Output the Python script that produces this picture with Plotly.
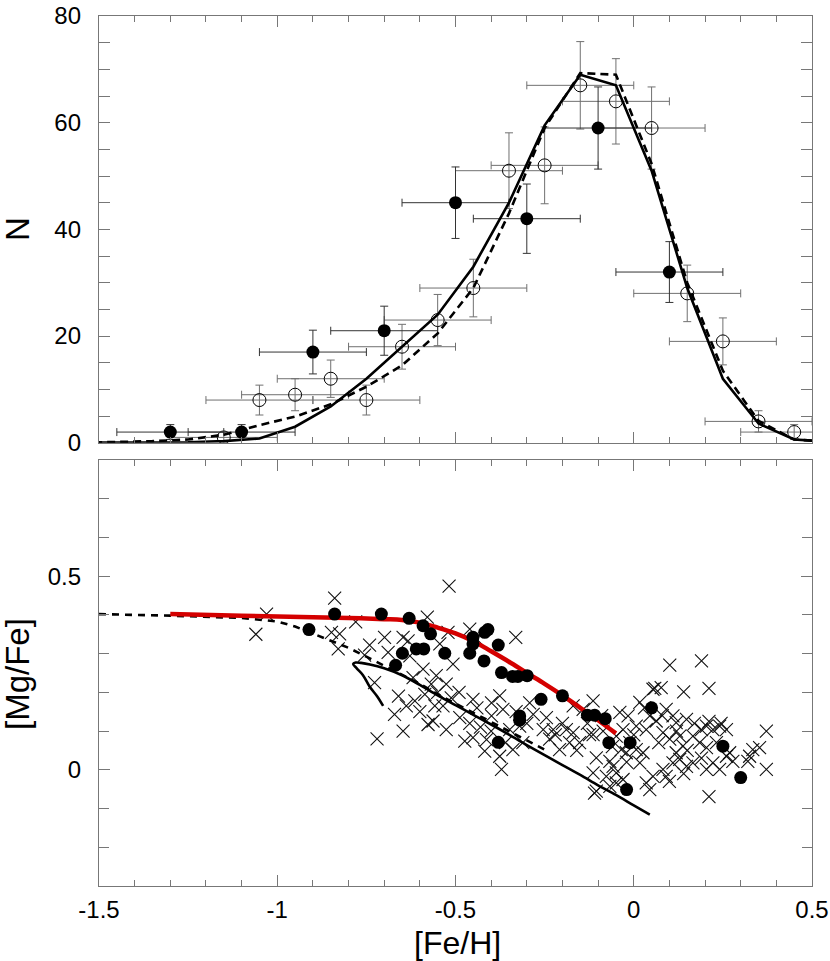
import plotly.graph_objects as go

# ---------------- top panel data ----------------
feh_filled = [-1.3, -1.1, -0.9, -0.7, -0.5, -0.3, -0.1, 0.1]
n_filled = [2, 2, 17, 21, 45, 42, 59, 32]
nerr_filled = [1.4, 1.4, 4.1, 4.6, 6.7, 6.5, 7.7, 5.7]
feherr_filled = [0.15, 0.15, 0.15, 0.15, 0.15, 0.15, 0.15, 0.15]

feh_open = [-1.15, -1.05, -0.95, -0.85, -0.75, -0.65, -0.55, -0.45, -0.35,
            -0.25, -0.15, -0.05, 0.05, 0.15, 0.25, 0.35, 0.45]
n_open = [1, 8, 9, 12, 8, 18, 23, 29, 51, 52, 67, 64, 59, 28, 19, 4, 2]
nerr_open = [1.0, 2.8, 3.0, 3.5, 2.8, 4.2, 4.8, 5.4, 7.1, 7.2, 8.2, 8.0, 7.7,
             5.3, 4.4, 2.0, 1.4]
feherr_open = [0.15] * 17

model_feh = [-1.55, -1.45, -1.35, -1.25, -1.15, -1.05, -0.95, -0.85, -0.75, -0.65,
             -0.55, -0.45, -0.35, -0.25, -0.15, -0.05, 0.05, 0.15, 0.25, 0.35,
             0.45, 0.55]
model_solid_n = [0, 0, 0, 0.1, 0.3, 0.8, 3.0, 6.8, 12, 18, 24, 33, 45, 59.5, 69,
                 67, 51, 29, 12, 3.6, 0.6, 0.2]
model_dash_n = [0, 0.1, 0.3, 0.6, 1.5, 3.3, 4.9, 7.2, 10.5, 14.5, 20.5, 29, 43,
                59, 69.3, 69, 52.3, 30, 13.5, 4.1, 0.6, 0.2]

# ---------------- bottom panel data ----------------
cross_feh = [
    -1.030, -1.060, -0.839, -0.518, -0.780, -0.579, -0.825, -0.848, -0.829, -0.741,
    -0.699, -0.647, -0.633, -0.755, -0.689, -0.628, -0.544, -0.521, -0.460, -0.441,
    -0.331, -0.507, -0.591, -0.619, -0.554, -0.727, -0.568, -0.526, -0.586, -0.614,
    -0.638, -0.671, -0.558, -0.535, -0.512, -0.451, -0.399, -0.376, -0.367, -0.399,
    -0.488, -0.526, -0.563, -0.577, -0.647, -0.720, -0.474, -0.451, -0.413, -0.418,
    -0.376, -0.371, -0.348, -0.320, -0.282, -0.339, -0.311, -0.292,
    -0.43, -0.46, -0.40, -0.55, -0.49, -0.60, -0.66, -0.36, -0.30, -0.33, -0.44,
    0.101, 0.190, 0.211, 0.140, 0.059, 0.077, 0.054, -0.114, -0.170, -0.142,
    -0.245, -0.254, -0.226, -0.236, -0.189, -0.170, -0.180, -0.208, -0.152, -0.114,
    -0.105, -0.114, -0.105, -0.067, -0.049, -0.035, -0.039, -0.016, 0.017, 0.007,
    0.035, 0.045, 0.063, 0.091, 0.110, 0.119, 0.148, 0.166, 0.101, 0.082,
    0.129, 0.138, 0.190, 0.204, 0.222, 0.241, 0.260, 0.232, 0.185, 0.204,
    0.260, 0.222, 0.204, 0.241, 0.278, 0.320, 0.334, 0.353, 0.372, 0.372,
    0.325, 0.119, 0.129, 0.148, 0.166, 0.110, 0.082, 0.091, 0.054, 0.035,
    0.045, 0.017, 0.026, 0.007, -0.021, -0.011, -0.030, -0.049, -0.058, -0.077,
    -0.049, -0.030, -0.067, 0.211, -0.086, -0.124, 0.245, 0.269,
    -0.20, -0.22, -0.16, -0.13, -0.09, -0.06, -0.02, 0.00, 0.03, 0.07,
    0.08, 0.12, 0.15, 0.17, 0.19, 0.10, 0.14, 0.211, -0.110]
cross_mgfe = [
    0.402, 0.350, 0.443, 0.474, 0.382, 0.394, 0.351, 0.355, 0.312, 0.322,
    0.342, 0.342, 0.333, 0.296, 0.303, 0.294, 0.325, 0.355, 0.363, 0.338,
    0.342, 0.273, 0.260, 0.238, 0.243, 0.225, 0.221, 0.221, 0.195, 0.178,
    0.165, 0.143, 0.165, 0.165, 0.186, 0.182, 0.173, 0.191, 0.156, 0.139,
    0.135, 0.104, 0.126, 0.117, 0.100, 0.080, 0.074, 0.083, 0.078, 0.048,
    0.035, 0.001, 0.104, 0.113, 0.143, 0.052, 0.070, 0.173,
    0.110, 0.120, 0.100, 0.200, 0.200, 0.150, 0.190, 0.070, 0.120, 0.150, 0.160,
    0.270, 0.281, 0.210, 0.201, 0.210, 0.212, 0.208, 0.178, 0.165, 0.156,
    0.135, 0.104, 0.104, 0.079, 0.104, 0.096, 0.070, 0.052, 0.070, 0.091,
    0.031, -0.008, -0.055, 0.022, -0.008, 0.052, 0.148, 0.139, 0.174, 0.113,
    0.104, 0.139, 0.126, 0.156, 0.139, 0.122, 0.130, 0.087, 0.079, 0.096,
    0.087, 0.061, 0.104, 0.113, 0.104, 0.113, 0.104, 0.070, 0.070, 0.057,
    0.035, 0.018, 0.001, 0.001, 0.022, 0.022, 0.052, 0.057, 0.100, 0.001,
    0.035, 0.044, 0.027, 0.009, 0.018, 0.018, 0.001, -0.017, -0.017, -0.034,
    -0.051, 0.018, 0.044, 0.052, 0.044, 0.070, 0.104, 0.087, 0.009, -0.017,
    -0.034, -0.025, -0.043, -0.069, 0.100, 0.091, 0.120, 0.044,
    0.120, 0.090, 0.050, 0.120, 0.140, 0.060, 0.020, 0.090, 0.160, 0.070,
    0.140, 0.100, 0.050, 0.120, 0.030, -0.030, -0.010, 0.125, -0.060]

dot_feh = [-0.911, -0.839, -0.708, -0.630, -0.591, -0.570, -0.649, -0.610, -0.589,
           -0.668, -0.530, -0.451, -0.418, -0.409, -0.451, -0.460, -0.380, -0.420,
           -0.371, -0.340, -0.325, -0.299, -0.260, -0.320, -0.320, -0.380, -0.200,
           -0.130, -0.110, -0.080, -0.070, -0.010, 0.050, -0.020, 0.250, 0.300]
dot_mgfe = [0.362, 0.402, 0.402, 0.391, 0.372, 0.351, 0.301, 0.312, 0.312,
            0.270, 0.301, 0.342, 0.355, 0.362, 0.325, 0.301, 0.322, 0.281,
            0.251, 0.241, 0.241, 0.243, 0.182, 0.139, 0.128, 0.071, 0.191,
            0.141, 0.141, 0.132, 0.070, 0.070, 0.160, -0.051, 0.061, -0.020]

red_feh = [-1.3, -1.1, -0.9, -0.8, -0.7, -0.65, -0.6, -0.55, -0.5, -0.45, -0.4,
           -0.35, -0.3, -0.25, -0.2, -0.15, -0.1, -0.05]
red_mgfe = [0.402, 0.398, 0.394, 0.392, 0.389, 0.387, 0.380, 0.367, 0.352,
            0.332, 0.306, 0.279, 0.250, 0.222, 0.192, 0.160, 0.128, 0.094]

dash_feh = [-1.5, -1.3, -1.1, -1.0, -0.95, -0.9, -0.85, -0.8, -0.75, -0.7, -0.65,
            -0.6, -0.55, -0.5, -0.45, -0.4, -0.35, -0.3, -0.25]
dash_mgfe = [0.402, 0.398, 0.392, 0.383, 0.370, 0.352, 0.333, 0.315, 0.292,
             0.268, 0.246, 0.222, 0.195, 0.171, 0.146, 0.122, 0.098, 0.075, 0.052]

solid_feh = [-0.703, -0.72, -0.741, -0.76, -0.777, -0.787, -0.78, -0.765, -0.74,
             -0.70, -0.65, -0.6, -0.55, -0.5, -0.45, -0.4, -0.35, -0.3, -0.25,
             -0.2, -0.15, -0.1, -0.05, 0.0, 0.045]
solid_mgfe = [0.165, 0.19, 0.215, 0.245, 0.262, 0.273, 0.277, 0.276, 0.272,
              0.262, 0.244, 0.219, 0.192, 0.167, 0.142, 0.117, 0.091, 0.064,
              0.038, 0.012, -0.013, -0.040, -0.065, -0.092, -0.116]

x_tickvals = [-1.5, -1.0, -0.5, 0.0, 0.5]
x_ticktext = ["-1.5", "-1", "-0.5", "0", "0.5"]
n_tickvals = [0, 20, 40, 60, 80]
n_ticktext = ["0", "20", "40", "60", "80"]
m_tickvals = [0.0, 0.5]
m_ticktext = ["0", "0.5"]

FONT = "Liberation Sans, Arial, sans-serif"
AX = "#777777"

fig = go.Figure()

# top panel (x2, y2)
fig.add_trace(go.Scatter(
    x=feh_open, y=n_open, mode="markers", xaxis="x2", yaxis="y2",
    marker=dict(symbol="circle-open", size=13, color="black", line=dict(width=1, color="black")),
    error_x=dict(type="data", array=feherr_open, color="#707070", thickness=1, width=4),
    error_y=dict(type="data", array=nerr_open, color="#707070", thickness=1, width=4),
    showlegend=False))
fig.add_trace(go.Scatter(
    x=feh_filled, y=n_filled, mode="markers", xaxis="x2", yaxis="y2",
    marker=dict(symbol="circle", size=13, color="black"),
    error_x=dict(type="data", array=feherr_filled, color="#333333", thickness=1, width=4),
    error_y=dict(type="data", array=nerr_filled, color="#333333", thickness=1, width=4),
    showlegend=False))
fig.add_trace(go.Scatter(
    x=model_feh, y=model_dash_n, mode="lines", xaxis="x2", yaxis="y2",
    line=dict(color="black", width=2.6, dash="8px,5px"), showlegend=False))
fig.add_trace(go.Scatter(
    x=model_feh, y=model_solid_n, mode="lines", xaxis="x2", yaxis="y2",
    line=dict(color="black", width=2.6), showlegend=False))

# bottom panel (x, y)
fig.add_trace(go.Scatter(
    x=cross_feh, y=cross_mgfe, mode="markers",
    marker=dict(symbol="x-thin", size=13, color="black", line=dict(width=1.1, color="#111111")),
    showlegend=False))
fig.add_trace(go.Scatter(
    x=dash_feh, y=dash_mgfe, mode="lines",
    line=dict(color="black", width=2.6, dash="7px,6px"), showlegend=False))
fig.add_trace(go.Scatter(
    x=solid_feh, y=solid_mgfe, mode="lines",
    line=dict(color="black", width=2.6, shape="spline"), showlegend=False))
fig.add_trace(go.Scatter(
    x=red_feh, y=red_mgfe, mode="lines",
    line=dict(color="#d40000", width=4.5, shape="spline"), showlegend=False))
fig.add_trace(go.Scatter(
    x=dot_feh, y=dot_mgfe, mode="markers",
    marker=dict(symbol="circle", size=13, color="black"), showlegend=False))

common_axis = dict(showline=True, linecolor=AX, linewidth=1.3, mirror="allticks",
                   ticks="inside", tickcolor=AX, tickwidth=1.3, showgrid=False,
                   zeroline=False, automargin=False, ticklabeloverflow="allow",
                   tickfont=dict(family=FONT, size=24, color="black"))

x_minor = [round(-1.5 + 0.1 * i, 2) for i in range(21)]
fig.update_layout(
    width=830, height=961,
    margin=dict(l=99, r=18, t=16, b=75, autoexpand=False),
    plot_bgcolor="white", paper_bgcolor="white",
    xaxis=dict(domain=[0, 1], anchor="y", range=[-1.5, 0.5],
               tickmode="array", tickvals=x_tickvals, ticktext=x_ticktext,
               ticklen=11, ticklabelstandoff=2,
               minor=dict(ticks="inside", ticklen=6, tickcolor=AX, tickwidth=1.3,
                          tickmode="array", tickvals=x_minor),
               **common_axis),
    yaxis=dict(domain=[0, 0.4897], anchor="x", range=[-0.3, 0.8],
               tickmode="array", tickvals=m_tickvals, ticktext=m_ticktext,
               ticklen=11, ticklabelstandoff=12,
               minor=dict(ticks="inside", ticklen=10, tickcolor=AX, tickwidth=1.3,
                          tickmode="array",
                          tickvals=[round(-0.3 + 0.1 * i, 2) for i in range(12)]),
               **common_axis),
    xaxis2=dict(domain=[0, 1], anchor="y2", range=[-1.5, 0.5], matches="x",
                tickmode="array", tickvals=x_tickvals, ticktext=x_ticktext,
                showticklabels=False, ticklen=11,
                minor=dict(ticks="inside", ticklen=6, tickcolor=AX, tickwidth=1.3,
                           tickmode="array", tickvals=x_minor),
                **common_axis),
    yaxis2=dict(domain=[0.5095, 1], anchor="x2", range=[0, 80],
                tickmode="array", tickvals=n_tickvals, ticktext=n_ticktext,
                ticklen=11, ticklabelstandoff=12,
                minor=dict(ticks="inside", ticklen=11, tickcolor=AX, tickwidth=1.3,
                           tickmode="array", tickvals=list(range(0, 81, 5))),
                **common_axis),
)

fig.add_annotation(text="N", xref="paper", yref="paper", x=-0.1136, y=0.7552,
                   xanchor="center", yanchor="middle", textangle=-90, showarrow=False,
                   borderpad=0, font=dict(family=FONT, size=33, color="black"))
fig.add_annotation(text="[Mg/Fe]", xref="paper", yref="paper", x=-0.1136, y=0.2437,
                   xanchor="center", yanchor="middle", textangle=-90, showarrow=False,
                   borderpad=0, font=dict(family=FONT, size=33, color="black"))
fig.add_annotation(text="[Fe/H]", xref="paper", yref="paper", x=0.5035, y=-0.0655,
                   xanchor="center", yanchor="middle", showarrow=False,
                   borderpad=0, font=dict(family=FONT, size=32, color="black"))

# remove the browser's default 8px body margin so the figure fills the window
fig.write_html("out.html", config={"displayModeBar": False},
               post_script="document.body.style.margin='0';")
